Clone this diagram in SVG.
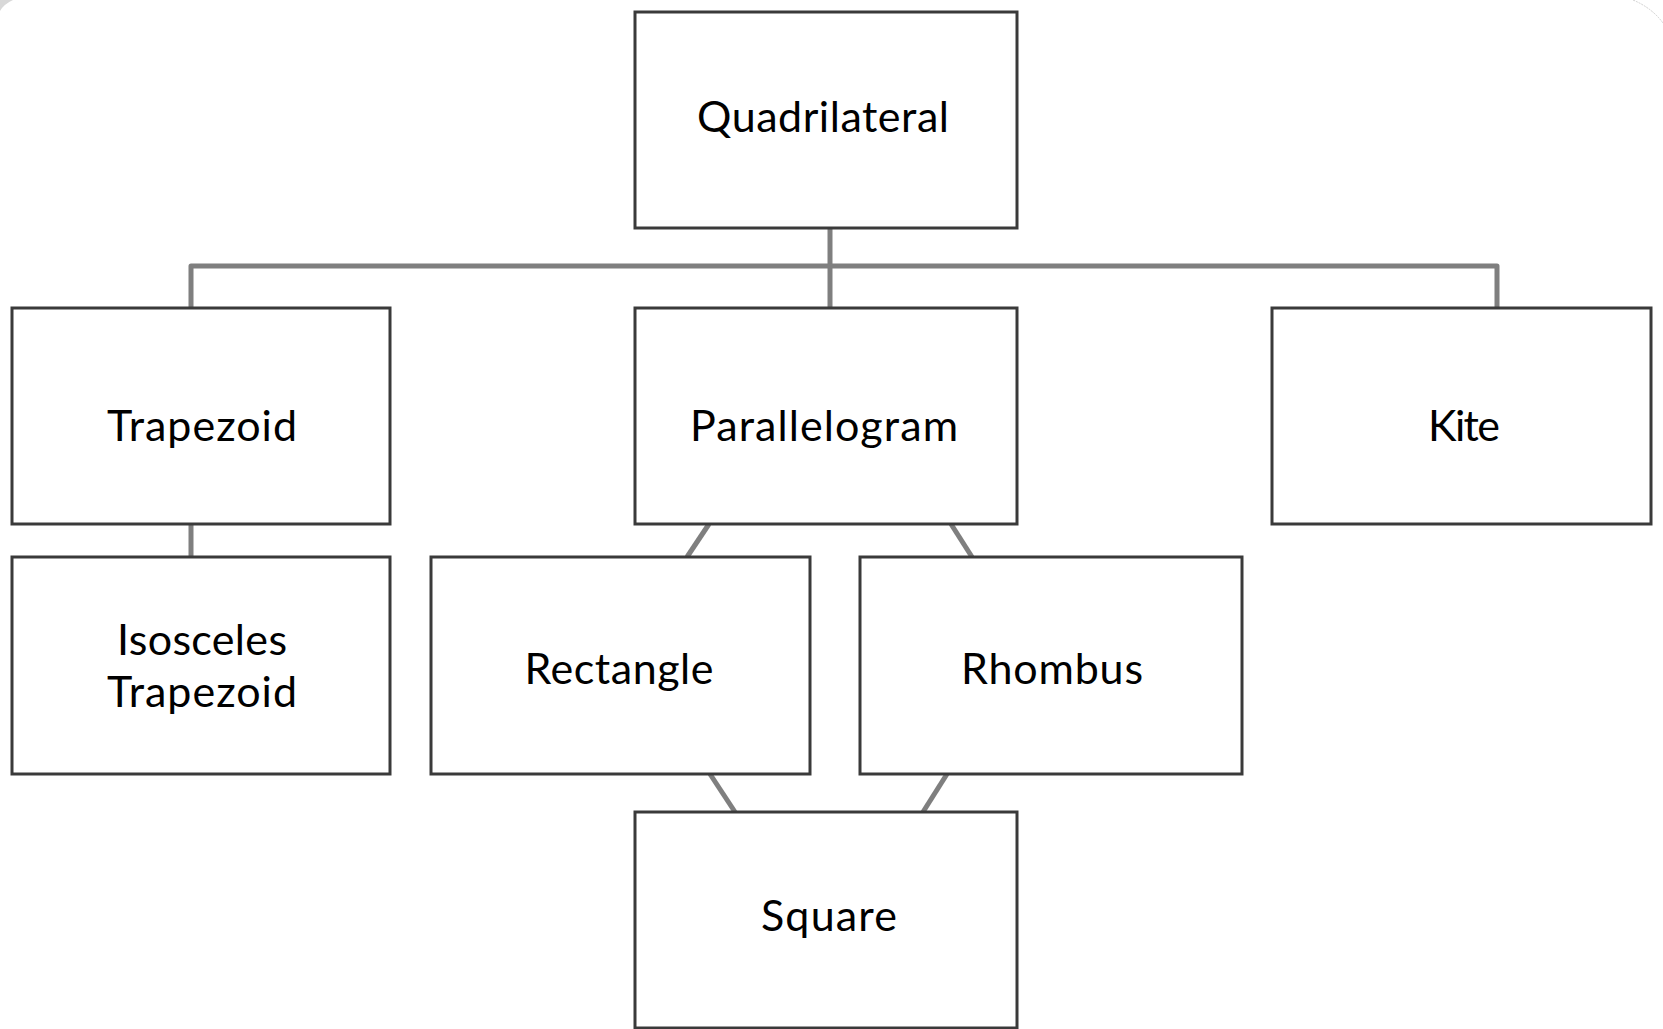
<svg xmlns="http://www.w3.org/2000/svg" width="1663" height="1029" viewBox="0 0 1663 1029">
<style>
.box{fill:#ffffff;stroke:#3a3a3a;stroke-width:3}
.lbl{font-family:Lato,"Open Sans","Liberation Sans",sans-serif;font-size:43px;fill:#000000;text-anchor:middle}
.con{fill:none;stroke:#7f7f7f;stroke-width:5;stroke-linejoin:round}
</style>
<rect width="1663" height="1029" fill="#ffffff"/>
<path d="M0,0 L13,0 Q4,4 0,11 Z" fill="#d8d8d8"/>
<path d="M1633,0 Q1652,8 1663,23" fill="none" stroke="#d0d0d0" stroke-width="1" stroke-dasharray="2,1"/>
<g id="connectors">
<path class="con" d="M830,228 V308"/>
<path class="con" d="M191,308 V266 H1497 V308"/>
<path class="con" d="M191,524 V557"/>
<path class="con" d="M709,524 L687,557"/>
<path class="con" d="M951,524 L972,557"/>
<path class="con" d="M710,774 L735,812"/>
<path class="con" d="M947,774 L923,812"/>
</g>
<g id="quadrilateral"><rect class="box" x="635" y="12" width="382" height="216"/><text class="lbl" x="823" y="132" textLength="252" lengthAdjust="spacing">Quadrilateral</text></g>
<g id="trapezoid"><rect class="box" x="12" y="308" width="378" height="216"/><text class="lbl" x="202" y="441" textLength="190" lengthAdjust="spacing">Trapezoid</text></g>
<g id="parallelogram"><rect class="box" x="635" y="308" width="382" height="216"/><text class="lbl" x="824" y="441" textLength="268" lengthAdjust="spacing">Parallelogram</text></g>
<g id="kite"><rect class="box" x="1272" y="308" width="379" height="216"/><text class="lbl" x="1464" y="441" textLength="72" lengthAdjust="spacing">Kite</text></g>
<g id="isosceles-trapezoid"><rect class="box" x="12" y="557" width="378" height="217"/><text class="lbl" x="202" y="655" textLength="170" lengthAdjust="spacing">Isosceles</text><text class="lbl" x="202" y="707" textLength="190" lengthAdjust="spacing">Trapezoid</text></g>
<g id="rectangle"><rect class="box" x="431" y="557" width="379" height="217"/><text class="lbl" x="619" y="684" textLength="189" lengthAdjust="spacing">Rectangle</text></g>
<g id="rhombus"><rect class="box" x="860" y="557" width="382" height="217"/><text class="lbl" x="1052" y="684" textLength="182" lengthAdjust="spacing">Rhombus</text></g>
<g id="square"><rect class="box" x="635" y="812" width="382" height="216"/><text class="lbl" x="829" y="931" textLength="136" lengthAdjust="spacing">Square</text></g>
</svg>
